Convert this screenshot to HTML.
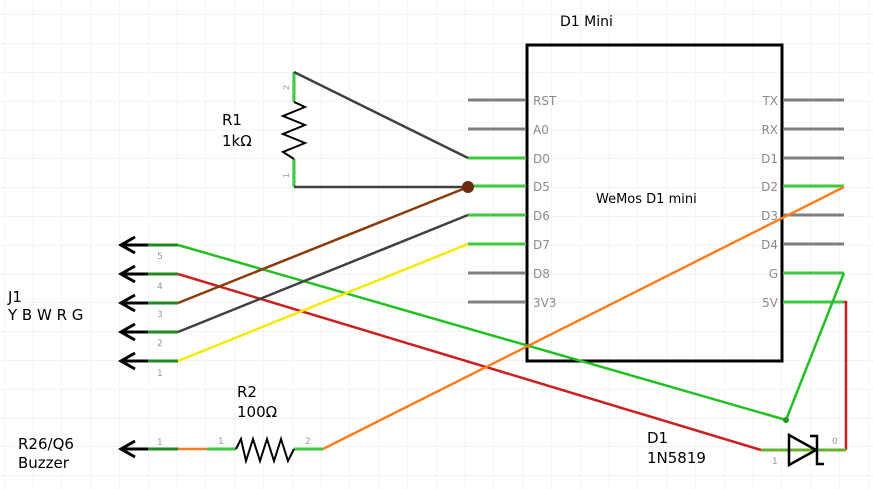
<!DOCTYPE html>
<html><head><meta charset="utf-8"><style>
html,body{margin:0;padding:0;background:#fff}
svg{display:block}
text{font-family:"DejaVu Sans","Liberation Sans",sans-serif}
</style></head><body>
<svg width="873" height="489" viewBox="0 0 873 489" xmlns="http://www.w3.org/2000/svg">
<defs>
<pattern id="g" x="4" y="14.5" width="28.8" height="28.8" patternUnits="userSpaceOnUse">
<path d="M0 0H28.8M0 0V28.8" stroke="#e6e9f0" stroke-width="1" fill="none"/>
</pattern>
</defs>
<rect width="873" height="489" fill="url(#g)"/>

<!-- D1 Mini box -->
<rect x="527" y="45" width="255" height="316" fill="none" stroke="#000" stroke-width="3"/>
<text x="560" y="26" font-size="14">D1 Mini</text>
<text x="596" y="203" font-size="13">WeMos D1 mini</text>
<g stroke="#808080" stroke-width="3">
<line x1="468" y1="100" x2="526" y2="100"/><line x1="468" y1="129" x2="526" y2="129"/>
<line x1="468" y1="273" x2="526" y2="273"/><line x1="468" y1="302" x2="526" y2="302"/>
<line x1="783" y1="100" x2="844" y2="100"/><line x1="783" y1="129" x2="844" y2="129"/>
<line x1="783" y1="158" x2="844" y2="158"/><line x1="783" y1="215" x2="844" y2="215"/>
<line x1="783" y1="244" x2="844" y2="244"/>
</g>
<g stroke="#3ec93e" stroke-width="3">
<line x1="468" y1="158" x2="526" y2="158"/><line x1="468" y1="186" x2="526" y2="186"/>
<line x1="468" y1="215" x2="526" y2="215"/><line x1="468" y1="244" x2="526" y2="244"/>
<line x1="783" y1="186" x2="844" y2="186"/><line x1="783" y1="273" x2="844" y2="273"/>
<line x1="783" y1="302" x2="844" y2="302"/>
</g>
<g font-size="12" fill="#8a8a8a">
<text x="533" y="105">RST</text><text x="533" y="134">A0</text><text x="533" y="163">D0</text>
<text x="533" y="191">D5</text><text x="533" y="220">D6</text><text x="533" y="249">D7</text>
<text x="533" y="278">D8</text><text x="533" y="307">3V3</text>
<g text-anchor="end">
<text x="778" y="105">TX</text><text x="778" y="134">RX</text><text x="778" y="163">D1</text>
<text x="778" y="191">D2</text><text x="778" y="220">D3</text><text x="778" y="249">D4</text>
<text x="778" y="278">G</text><text x="778" y="307">5V</text>
</g></g>

<!-- R1 -->
<text x="222" y="125" font-size="15">R1</text>
<text x="222" y="146" font-size="15">1kΩ</text>
<line x1="294" y1="72" x2="294" y2="102" stroke="#3ec93e" stroke-width="3"/>
<line x1="294" y1="159" x2="294" y2="187" stroke="#3ec93e" stroke-width="3"/>
<polyline points="294,102 305,107 283,116 305,125 283,134 305,143 283,152 294,159" fill="none" stroke="#000" stroke-width="2"/>
<text x="289" y="90" font-size="8" fill="#999" transform="rotate(-90 289 90)">2</text>
<text x="289" y="178" font-size="8" fill="#999" transform="rotate(-90 289 178)">1</text>
<line x1="294" y1="72" x2="468" y2="158" stroke="#404040" stroke-width="2.5"/>
<line x1="294" y1="187" x2="468" y2="187" stroke="#404040" stroke-width="2.5"/>

<!-- J1 -->
<text x="8" y="302" font-size="15">J1</text>
<text x="8" y="320" font-size="15">Y B W R G</text>
<g fill="none" stroke-width="3">
<g stroke="#000">
<line x1="121" y1="245" x2="150" y2="245"/><polyline points="135,237 121,245 135,253"/>
<line x1="121" y1="274" x2="150" y2="274"/><polyline points="135,266 121,274 135,282"/>
<line x1="121" y1="303" x2="150" y2="303"/><polyline points="135,295 121,303 135,311"/>
<line x1="121" y1="332" x2="150" y2="332"/><polyline points="135,324 121,332 135,340"/>
<line x1="121" y1="361" x2="150" y2="361"/><polyline points="135,353 121,361 135,369"/>
<line x1="121" y1="449" x2="150" y2="449"/><polyline points="135,441 121,449 135,457"/>
</g>
<g stroke="#1f8a1f">
<line x1="148" y1="245" x2="178" y2="245"/><line x1="148" y1="274" x2="178" y2="274"/>
<line x1="148" y1="303" x2="178" y2="303"/><line x1="148" y1="332" x2="178" y2="332"/>
<line x1="148" y1="361" x2="178" y2="361"/><line x1="148" y1="449" x2="178" y2="449"/>
</g></g>
<g font-size="9" fill="#999">
<text x="157" y="259">5</text><text x="157" y="289">4</text><text x="157" y="317">3</text>
<text x="157" y="346">2</text><text x="157" y="376">1</text><text x="157" y="445">1</text>
</g>
<text x="18" y="449" font-size="15">R26/Q6</text>
<text x="18" y="468" font-size="15">Buzzer</text>

<!-- R2 -->
<text x="237" y="397" font-size="15">R2</text>
<text x="237" y="417" font-size="15">100Ω</text>
<line x1="178" y1="449" x2="207" y2="449" stroke="#ff7f1f" stroke-width="2.5"/>
<line x1="207" y1="449" x2="236" y2="449" stroke="#3ec93e" stroke-width="3"/>
<line x1="294" y1="449" x2="323" y2="449" stroke="#3ec93e" stroke-width="3"/>
<polyline points="236,449 241,439 246,461 253,439 260,461 267,439 274,461 281,439 288,461 294,449" fill="none" stroke="#000" stroke-width="2"/>
<text x="218" y="444" font-size="9" fill="#999">1</text>
<text x="305" y="444" font-size="9" fill="#999">2</text>

<!-- wires -->
<line x1="178" y1="245" x2="786" y2="420" stroke="#22c022" stroke-width="2.5"/>
<line x1="178" y1="274" x2="761" y2="450" stroke="#cc1f1f" stroke-width="2.5"/>
<line x1="178" y1="303" x2="468" y2="187" stroke="#8b3a0a" stroke-width="2.5"/>
<line x1="178" y1="332" x2="468" y2="215" stroke="#404040" stroke-width="2.5"/>
<line x1="178" y1="361" x2="468" y2="244" stroke="#f5ea00" stroke-width="2.5"/>
<line x1="323" y1="449" x2="844" y2="187" stroke="#ff7f1f" stroke-width="2.5"/>
<line x1="844" y1="273" x2="786" y2="420" stroke="#22c022" stroke-width="2.5"/>
<polyline points="844,302 846,302 846,450" fill="none" stroke="#cc1f1f" stroke-width="2.5"/>
<circle cx="468" cy="187" r="6" fill="#6b2a10"/>
<circle cx="786" cy="420" r="3" fill="#1a9a1a"/>

<!-- D1 diode -->
<text x="647" y="443" font-size="15">D1</text>
<text x="647" y="463" font-size="15">1N5819</text>
<line x1="761" y1="450" x2="846" y2="450" stroke="#3ec93e" stroke-width="3"/>
<line x1="761" y1="450" x2="846" y2="450" stroke="#b8860b" stroke-width="1.5" stroke-dasharray="4,2"/>
<polygon points="789,435 789,465 816,450" fill="none" stroke="#000" stroke-width="2.5"/>
<polyline points="810,436 817,436 817,464 824,464" fill="none" stroke="#000" stroke-width="2.5"/>
<text x="772" y="464" font-size="9" fill="#999">1</text>
<text x="832" y="444" font-size="9" fill="#999">0</text>
</svg>
</body></html>
